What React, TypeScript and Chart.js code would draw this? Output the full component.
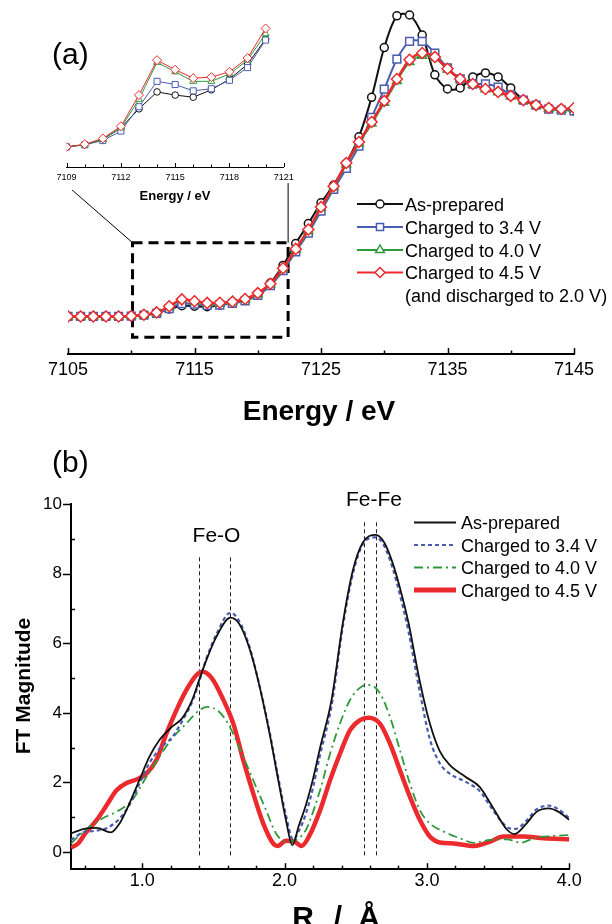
import React, { useEffect, useRef } from 'react';
import { Chart, registerables } from 'chart.js';

Chart.register(...registerables);

const FONT = '"Liberation Sans", Arial, Helvetica, sans-serif';

// ---------- (a) XANES data ----------
const energies = [
  7105, 7106, 7107, 7108, 7109, 7110, 7111, 7112, 7113, 7114, 7115, 7116, 7117, 7118,
  7119, 7120, 7121, 7122, 7123, 7124, 7125, 7126, 7127, 7128, 7129, 7130, 7131, 7132,
  7133, 7134, 7135, 7136, 7137, 7138, 7139, 7140, 7141, 7142, 7143, 7144, 7145,
];
const asPrepared = [
  0, 0, 0, 0, 0, 0.002, 0.007, 0.018, 0.036, 0.052, 0.049, 0.047, 0.054, 0.064,
  0.078, 0.102, 0.16, 0.245, 0.35, 0.446, 0.545, 0.63, 0.735, 0.862, 1.051, 1.29, 1.442, 1.446,
  1.35, 1.159, 1.091, 1.096, 1.149, 1.168, 1.149, 1.096, 1.038, 1.014, 1.0, 0.995, 0.986,
];
const charged34 = [
  0, 0, 0, 0, 0, 0.002, 0.006, 0.015, 0.038, 0.062, 0.059, 0.053, 0.055, 0.063,
  0.075, 0.101, 0.148, 0.22, 0.31, 0.4, 0.505, 0.61, 0.71, 0.817, 0.955, 1.09, 1.234, 1.319,
  1.319, 1.263, 1.192, 1.139, 1.115, 1.115, 1.1, 1.063, 1.038, 1.014, 0.995, 0.99, 0.986,
];
const charged40 = [
  0, 0, 0, 0, 0, 0.002, 0.007, 0.018, 0.045, 0.08, 0.071, 0.062, 0.062, 0.069,
  0.082, 0.107, 0.155, 0.228, 0.32, 0.41, 0.52, 0.62, 0.73, 0.83, 0.925, 1.025, 1.13, 1.22,
  1.25, 1.24, 1.185, 1.139, 1.113, 1.09, 1.075, 1.056, 1.036, 1.012, 0.998, 0.993, 0.995,
];
const charged45 = [
  0, 0, 0, 0, 0, 0.0025, 0.008, 0.0195, 0.049, 0.082, 0.073, 0.065, 0.066, 0.071,
  0.084, 0.112, 0.157, 0.231, 0.324, 0.417, 0.525, 0.625, 0.736, 0.837, 0.933, 1.034, 1.139, 1.231,
  1.264, 1.245, 1.188, 1.139, 1.115, 1.091, 1.077, 1.058, 1.038, 1.014, 1.0, 0.995, 1.0,
];
const energyTicks = [7105, 7115, 7125, 7135, 7145];
const energyMinorTicks = [7110, 7120, 7130, 7140];
const insetRange = [7109, 7120];
const insetTicks = [7109, 7112, 7115, 7118, 7121];
const insetMinorTicks = [7110, 7111, 7113, 7114, 7116, 7117, 7119, 7120];
const zoomBoxEnergy = [7110.1, 7122.4];
const zoomBoxLevel = [-0.1, 0.354];
const connectorLeft = [7105.32, 0.607];
const connectorRight = [7122.4, 0.64];
const legendA = ['As-prepared', 'Charged to 3.4 V', 'Charged to 4.0 V', 'Charged to 4.5 V'];
const legendANote = '(and discharged to 2.0 V)';

// ---------- (b) EXAFS FT data ----------
const rAsPrepared = [0.5, 0.6, 0.68, 0.78, 0.84, 0.91, 0.98, 1.05, 1.12, 1.21, 1.28, 1.35, 1.4, 1.45, 1.52, 1.62, 1.68, 1.75, 1.82, 1.89, 1.96, 2.01, 2.055, 2.1, 2.15, 2.2, 2.25, 2.33, 2.41, 2.48, 2.55, 2.64, 2.7, 2.76, 2.81, 2.87, 2.95, 3.02, 3.09, 3.16, 3.27, 3.37, 3.46, 3.56, 3.615, 3.7, 3.77, 3.855, 3.925, 4.0];
const ftAsPrepared = [0.53, 0.67, 0.69, 0.56, 0.81, 1.39, 2.06, 2.73, 3.21, 3.6, 3.84, 4.36, 4.94, 5.51, 6.18, 6.74, 6.57, 5.9, 4.84, 3.5, 1.97, 0.91, 0.19, 0.75, 1.35, 2.1, 3.0, 4.37, 6.6, 8.1, 8.9, 9.12, 8.9, 8.3, 7.6, 6.6, 4.9, 3.7, 2.9, 2.5, 2.16, 1.87, 1.3, 0.65, 0.51, 0.82, 1.15, 1.25, 1.15, 0.92];
const r34 = [0.5, 0.58, 0.66, 0.75, 0.84, 0.91, 0.98, 1.05, 1.12, 1.21, 1.3, 1.36, 1.4, 1.45, 1.52, 1.62, 1.68, 1.75, 1.82, 1.89, 1.96, 2.01, 2.06, 2.1, 2.15, 2.2, 2.25, 2.33, 2.41, 2.48, 2.55, 2.64, 2.7, 2.76, 2.81, 2.87, 2.95, 3.02, 3.09, 3.16, 3.27, 3.37, 3.46, 3.56, 3.62, 3.7, 3.77, 3.855, 3.925, 4.0];
const ft34 = [0.34, 0.55, 0.6, 0.68, 0.95, 1.35, 1.95, 2.55, 2.95, 3.3, 3.9, 4.4, 4.9, 5.55, 6.25, 6.88, 6.65, 5.95, 4.85, 3.55, 2.05, 1.05, 0.35, 0.6, 1.1, 1.85, 2.8, 4.2, 6.5, 8.0, 8.85, 9.05, 8.8, 8.15, 7.4, 6.35, 4.6, 3.25, 2.55, 2.25, 2.02, 1.75, 1.22, 0.72, 0.66, 0.9, 1.22, 1.33, 1.22, 0.97];
const r40 = [0.5, 0.6, 0.72, 0.84, 0.93, 1.03, 1.12, 1.21, 1.31, 1.4, 1.46, 1.54, 1.61, 1.68, 1.78, 1.87, 1.94, 2.01, 2.08, 2.15, 2.18, 2.25, 2.32, 2.39, 2.46, 2.54, 2.6, 2.67, 2.74, 2.81, 2.88, 2.95, 3.02, 3.12, 3.23, 3.33, 3.44, 3.56, 3.66, 3.75, 3.87, 4.0];
const ft40 = [0.24, 0.63, 0.96, 1.2, 1.49, 2.16, 2.73, 3.26, 3.69, 4.07, 4.17, 4.03, 3.64, 3.02, 2.06, 1.2, 0.53, 0.29, 0.34, 0.63, 0.92, 1.78, 2.83, 3.7, 4.37, 4.75, 4.8, 4.56, 3.89, 2.93, 1.97, 1.2, 0.82, 0.58, 0.39, 0.26, 0.34, 0.36, 0.26, 0.39, 0.45, 0.48];
const r45 = [0.5, 0.55, 0.6, 0.68, 0.75, 0.82, 0.89, 0.96, 1.03, 1.1, 1.17, 1.24, 1.31, 1.38, 1.425, 1.49, 1.56, 1.64, 1.71, 1.78, 1.85, 1.92, 1.95, 2.01, 2.07, 2.12, 2.17, 2.25, 2.32, 2.39, 2.46, 2.53, 2.59, 2.67, 2.74, 2.81, 2.88, 2.95, 3.02, 3.09, 3.19, 3.33, 3.44, 3.54, 3.68, 3.82, 4.0];
const ft45 = [0.12, 0.24, 0.53, 0.91, 1.34, 1.77, 1.98, 2.08, 2.25, 2.64, 3.4, 4.07, 4.65, 5.08, 5.18, 4.99, 4.46, 3.69, 2.64, 1.68, 0.82, 0.24, 0.17, 0.32, 0.29, 0.17, 0.43, 1.2, 2.07, 2.83, 3.5, 3.79, 3.86, 3.69, 3.12, 2.35, 1.59, 0.92, 0.44, 0.27, 0.24, 0.17, 0.29, 0.44, 0.44, 0.39, 0.36];
const rTicks = [1.0, 2.0, 3.0, 4.0];
const rMinorTicks = [0.6, 0.8, 1.2, 1.4, 1.6, 1.8, 2.2, 2.4, 2.6, 2.8, 3.2, 3.4, 3.6, 3.8];
const ftTicks = [0, 2, 4, 6, 8, 10];
const ftMinorTicks = [1, 3, 5, 7, 9];
const feOLines = [1.4, 1.62];
const feOTop = 8.5;
const feFeLines = [2.555, 2.645];
const feFeTop = 9.55;
const legendB = ['As-prepared', 'Charged to 3.4 V', 'Charged to 4.0 V', 'Charged to 4.5 V'];
const rTitleParts = ['R', '/', 'Å'];

const BLACK = '#111111';
const BLUE = '#4a5cb0';
const GREEN = '#2e9a3c';
const RED = '#ec2a2e';
const COLORS = [BLACK, BLUE, GREEN, RED];
const MARKERS = ['circle', 'rect', 'triangle', 'rectRot'];

function drawMarker(ctx: CanvasRenderingContext2D, style: string, x: number, y: number, r: number) {
  ctx.beginPath();
  if (style === 'circle') ctx.arc(x, y, r, 0, Math.PI * 2);
  else if (style === 'rect') {
    const s = r * Math.SQRT1_2;
    ctx.rect(x - s, y - s, 2 * s, 2 * s);
  } else if (style === 'triangle') {
    ctx.moveTo(x, y - r);
    ctx.lineTo(x + r * 0.866, y + r * 0.5);
    ctx.lineTo(x - r * 0.866, y + r * 0.5);
    ctx.closePath();
  } else {
    ctx.moveTo(x, y - r);
    ctx.lineTo(x + r, y);
    ctx.lineTo(x, y + r);
    ctx.lineTo(x - r, y);
    ctx.closePath();
  }
  ctx.fill();
  ctx.stroke();
}

function xTicksUp(chart: any, major: number[], minor: number[], majLen: number, minLen: number, width: number) {
  const { ctx, scales, chartArea } = chart;
  const x = scales.x;
  ctx.save();
  ctx.strokeStyle = '#000';
  ctx.lineWidth = width;
  const draw = (v: number, len: number) => {
    const px = Math.round(x.getPixelForValue(v)) + 0.5;
    ctx.beginPath();
    ctx.moveTo(px, chartArea.bottom);
    ctx.lineTo(px, chartArea.bottom - len);
    ctx.stroke();
  };
  major.forEach((v) => draw(v, majLen));
  minor.forEach((v) => draw(v, minLen));
  ctx.restore();
}

const aSets = [asPrepared, charged34, charged40, charged45];

function makeMain(canvas: HTMLCanvasElement) {
  const decor = {
    id: 'xanesDecor',
    beforeDatasetsDraw(chart: any) {
      const { ctx, scales } = chart;
      const x = scales.x;
      const y = scales.y;
      const x0 = x.getPixelForValue(zoomBoxEnergy[0]);
      const x1 = x.getPixelForValue(zoomBoxEnergy[1]);
      const y0 = y.getPixelForValue(zoomBoxLevel[1]);
      const y1 = y.getPixelForValue(zoomBoxLevel[0]);
      ctx.save();
      ctx.strokeStyle = '#000';
      ctx.lineWidth = 1;
      ctx.beginPath();
      ctx.moveTo(x.getPixelForValue(connectorLeft[0]), y.getPixelForValue(connectorLeft[1]));
      ctx.lineTo(x0, y0);
      ctx.moveTo(x.getPixelForValue(connectorRight[0]), y.getPixelForValue(connectorRight[1]));
      ctx.lineTo(x1, y0);
      ctx.stroke();
      ctx.lineWidth = 3;
      ctx.setLineDash([10, 6]);
      ctx.strokeRect(x0, y0, x1 - x0, y1 - y0);
      ctx.restore();
    },
    afterDraw(chart: any) {
      const { ctx } = chart;
      xTicksUp(chart, energyTicks, energyMinorTicks, 6, 3.5, 1.5);
      ctx.save();
      ctx.fillStyle = '#000';
      ctx.textAlign = 'left';
      ctx.textBaseline = 'alphabetic';
      ctx.font = `30px ${FONT}`;
      ctx.fillText('(a)', 52, 64);
      ctx.font = `bold 28px ${FONT}`;
      ctx.textAlign = 'center';
      ctx.fillText('Energy / eV', 319, 420);
      // legend
      const rows = [204, 227, 250, 272.5, 295];
      ctx.font = `18px ${FONT}`;
      ctx.textAlign = 'left';
      legendA.forEach((name, i) => {
        const yy = rows[i];
        ctx.strokeStyle = COLORS[i];
        ctx.lineWidth = 2;
        ctx.beginPath();
        ctx.moveTo(357, yy);
        ctx.lineTo(403, yy);
        ctx.stroke();
        ctx.fillStyle = '#fff';
        ctx.lineWidth = 1.5;
        drawMarker(ctx, MARKERS[i], 380, yy, i === 0 ? 4 : 5);
        ctx.fillStyle = '#000';
        ctx.fillText(name, 405, yy + 6.5);
      });
      ctx.fillText(legendANote, 405, rows[4] + 6.5);
      ctx.restore();
    },
  };
  const radii = [4, 5.5, 5, 5.5];
  return new Chart(canvas, {
    type: 'line',
    data: {
      datasets: aSets.map((arr, i) => ({
        label: legendA[i],
        data: energies.map((e, k) => ({ x: e, y: arr[k] })),
        borderColor: COLORS[i],
        backgroundColor: '#ffffff',
        borderWidth: i === 3 ? 2.5 : 2,
        pointStyle: MARKERS[i],
        pointRadius: radii[i],
        pointBorderWidth: 1.5,
        pointBorderColor: COLORS[i],
        pointBackgroundColor: '#ffffff',
        tension: 0.3,
        clip: { left: 0, right: 0, top: false, bottom: false },
        order: 4 - i,
      })),
    },
    options: {
      responsive: false,
      animation: false,
      devicePixelRatio: 1,
      events: [],
      layout: { padding: { left: 68, right: 38, top: 10, bottom: 0 } },
      plugins: { legend: { display: false }, tooltip: { enabled: false } },
      scales: {
        x: {
          type: 'linear',
          min: 7105,
          max: 7145,
          grid: { display: false, drawTicks: false },
          border: { display: true, color: '#000', width: 2 },
          afterBuildTicks: (s: any) => {
            s.ticks = energyTicks.map((v) => ({ value: v }));
          },
          afterFit: (s: any) => {
            s.height = 86;
          },
          ticks: {
            padding: 5,
            color: '#000',
            autoSkip: false,
            maxRotation: 0,
            font: { family: FONT, size: 18 },
            callback: (v: any) => String(v),
          },
        },
        y: { display: false, min: -0.18, max: 1.47 },
      },
    },
    plugins: [decor],
  } as any);
}

function makeInset(canvas: HTMLCanvasElement) {
  const decor = {
    id: 'insetDecor',
    afterDraw(chart: any) {
      const { ctx } = chart;
      xTicksUp(chart, insetTicks, insetMinorTicks, 4, 2.5, 1);
      ctx.save();
      ctx.fillStyle = '#000';
      ctx.textAlign = 'center';
      ctx.font = `bold 13px ${FONT}`;
      ctx.fillText('Energy / eV', 175, 200);
      ctx.restore();
    },
  };
  const i0 = energies.indexOf(insetRange[0]);
  const i1 = energies.indexOf(insetRange[1]);
  const radii = [3.3, 4.3, 4, 4.5];
  return new Chart(canvas, {
    type: 'line',
    data: {
      datasets: aSets.map((arr, i) => ({
        label: legendA[i],
        data: energies.slice(i0, i1 + 1).map((e, k) => ({ x: e, y: arr[i0 + k] })),
        borderColor: COLORS[i],
        backgroundColor: '#ffffff',
        borderWidth: 1,
        pointStyle: MARKERS[i],
        pointRadius: radii[i],
        pointBorderWidth: 1,
        pointBorderColor: COLORS[i],
        pointBackgroundColor: '#ffffff',
        tension: 0,
        clip: { left: 0, right: false, top: false, bottom: false },
        order: 4 - i,
      })),
    },
    options: {
      responsive: false,
      animation: false,
      devicePixelRatio: 1,
      events: [],
      layout: { padding: { left: 66.6, right: 16.3, top: 20, bottom: 0 } },
      plugins: { legend: { display: false }, tooltip: { enabled: false } },
      scales: {
        x: {
          type: 'linear',
          min: 7109,
          max: 7121,
          grid: { display: false, drawTicks: false },
          border: { display: true, color: '#000', width: 1 },
          afterBuildTicks: (s: any) => {
            s.ticks = insetTicks.map((v) => ({ value: v }));
          },
          afterFit: (s: any) => {
            s.height = 48;
          },
          ticks: {
            padding: 5,
            color: '#000',
            autoSkip: false,
            maxRotation: 0,
            font: { family: FONT, size: 9 },
            callback: (v: any) => String(v),
          },
        },
        y: { display: false, min: -0.019, max: 0.12 },
      },
    },
    plugins: [decor],
  } as any);
}

function makeFT(canvas: HTMLCanvasElement) {
  const TOP = 440;
  const decor = {
    id: 'ftDecor',
    beforeDatasetsDraw(chart: any) {
      const { ctx, scales } = chart;
      const x = scales.x;
      const y = scales.y;
      ctx.save();
      ctx.strokeStyle = '#222';
      ctx.lineWidth = 1;
      ctx.setLineDash([4, 3]);
      const vline = (v: number, top: number) => {
        const px = Math.round(x.getPixelForValue(v)) + 0.5;
        ctx.beginPath();
        ctx.moveTo(px, y.getPixelForValue(-0.1));
        ctx.lineTo(px, y.getPixelForValue(top));
        ctx.stroke();
      };
      feOLines.forEach((v) => vline(v, feOTop));
      feFeLines.forEach((v) => vline(v, feFeTop));
      ctx.restore();
    },
    afterDraw(chart: any) {
      const { ctx, scales, chartArea } = chart;
      const y = scales.y;
      xTicksUp(chart, rTicks, rMinorTicks, 6, 3.5, 1.5);
      ctx.save();
      ctx.strokeStyle = '#000';
      ctx.lineWidth = 1.5;
      ftTicks.forEach((v) => {
        const py = Math.round(y.getPixelForValue(v)) + 0.5;
        ctx.beginPath();
        ctx.moveTo(chartArea.left - 8, py);
        ctx.lineTo(chartArea.left, py);
        ctx.stroke();
      });
      ftMinorTicks.forEach((v) => {
        const py = Math.round(y.getPixelForValue(v)) + 0.5;
        ctx.beginPath();
        ctx.moveTo(chartArea.left, py);
        ctx.lineTo(chartArea.left + 4, py);
        ctx.stroke();
      });
      ctx.fillStyle = '#000';
      ctx.textAlign = 'left';
      ctx.font = `30px ${FONT}`;
      ctx.fillText('(b)', 52, 472 - TOP);
      ctx.textAlign = 'center';
      ctx.font = `21px ${FONT}`;
      ctx.fillText('Fe-O', 216.5, 542 - TOP);
      ctx.fillText('Fe-Fe', 374, 506 - TOP);
      ctx.font = `bold 21px ${FONT}`;
      ctx.save();
      ctx.translate(30, 686 - TOP);
      ctx.rotate(-Math.PI / 2);
      ctx.fillText('FT Magnitude', 0, 0);
      ctx.restore();
      ctx.font = `bold 30px ${FONT}`;
      const partX = [303, 338, 369];
      rTitleParts.forEach((t, i) => ctx.fillText(t, partX[i], 927 - TOP));
      // legend
      const rows = [522.5, 545, 567.5, 590];
      const widths = [2, 2.2, 1.8, 5];
      const dashes = [[], [4, 3], [9, 4, 2, 4], []];
      ctx.textAlign = 'left';
      ctx.font = `18px ${FONT}`;
      legendB.forEach((name, i) => {
        const yy = rows[i] - TOP;
        ctx.strokeStyle = COLORS[i];
        ctx.lineWidth = widths[i];
        ctx.setLineDash(dashes[i]);
        ctx.beginPath();
        ctx.moveTo(414, yy);
        ctx.lineTo(456, yy);
        ctx.stroke();
        ctx.setLineDash([]);
        ctx.fillStyle = '#000';
        ctx.fillText(name, 461, yy + 6.5);
      });
      ctx.restore();
    },
  };
  const series = [
    { r: rAsPrepared, f: ftAsPrepared, w: 1.8, dash: [], order: 1 },
    { r: r34, f: ft34, w: 2.2, dash: [4, 3], order: 2 },
    { r: r40, f: ft40, w: 1.8, dash: [9, 4, 2, 4], order: 3 },
    { r: r45, f: ft45, w: 4.5, dash: [], order: 4 },
  ];
  return new Chart(canvas, {
    type: 'line',
    data: {
      datasets: series.map((s, i) => ({
        label: legendB[i],
        data: s.r.map((r, k) => ({ x: r, y: s.f[k] })),
        borderColor: COLORS[i],
        borderWidth: s.w,
        borderDash: s.dash,
        pointRadius: 0,
        cubicInterpolationMode: 'monotone',
        order: s.order,
        fill: false,
      })),
    },
    options: {
      responsive: false,
      animation: false,
      devicePixelRatio: 1,
      events: [],
      layout: { padding: { left: 0, right: 42.7, top: 64.3, bottom: 0 } },
      plugins: { legend: { display: false }, tooltip: { enabled: false } },
      scales: {
        x: {
          type: 'linear',
          min: 0.5,
          max: 4.0,
          grid: { display: false, drawTicks: false },
          border: { display: true, color: '#000', width: 2 },
          afterBuildTicks: (s: any) => {
            s.ticks = rTicks.map((v) => ({ value: v }));
          },
          afterFit: (s: any) => {
            s.height = 54.8;
          },
          ticks: {
            padding: 1,
            color: '#000',
            autoSkip: false,
            maxRotation: 0,
            font: { family: FONT, size: 18 },
            callback: (v: any) => Number(v).toFixed(1),
          },
        },
        y: {
          type: 'linear',
          min: -0.5,
          max: 10,
          grid: { display: false, drawTicks: false },
          border: { display: true, color: '#000', width: 2 },
          afterBuildTicks: (s: any) => {
            s.ticks = ftTicks.map((v) => ({ value: v }));
          },
          afterFit: (s: any) => {
            s.width = 71;
          },
          ticks: {
            padding: 9,
            color: '#000',
            autoSkip: false,
            font: { family: FONT, size: 17 },
            callback: (v: any) => String(v),
          },
        },
      },
    },
    plugins: [decor],
  } as any);
}

export default function App() {
  const aRef = useRef<HTMLCanvasElement>(null);
  const insetRef = useRef<HTMLCanvasElement>(null);
  const bRef = useRef<HTMLCanvasElement>(null);
  useEffect(() => {
    const charts = [
      makeMain(aRef.current as HTMLCanvasElement),
      makeInset(insetRef.current as HTMLCanvasElement),
      makeFT(bRef.current as HTMLCanvasElement),
    ];
    return () => charts.forEach((c) => c.destroy());
  }, []);
  return (
    <div style={{ position: 'absolute', left: 0, top: 0, width: 612, height: 924, background: '#fff', overflow: 'hidden' }}>
      <canvas ref={aRef} width={612} height={440} style={{ position: 'absolute', left: 0, top: 0, width: 612, height: 440 }} />
      <canvas ref={insetRef} width={300} height={215} style={{ position: 'absolute', left: 0, top: 0, width: 300, height: 215 }} />
      <canvas ref={bRef} width={612} height={484} style={{ position: 'absolute', left: 0, top: 440, width: 612, height: 484 }} />
    </div>
  );
}
